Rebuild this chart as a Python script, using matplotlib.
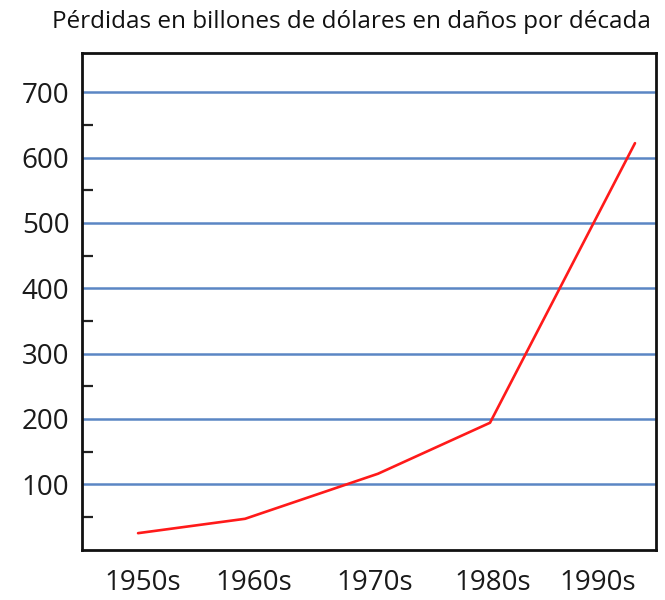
import matplotlib
matplotlib.use("Agg")
import matplotlib.pyplot as plt
from matplotlib.ticker import FixedLocator

# Data
decades = ["1950s", "1960s", "1970s", "1980s", "1990s"]
losses = [25, 47, 116, 194, 622]
y_major = [100, 200, 300, 400, 500, 600, 700]
y_minor = [50, 150, 250, 350, 450, 550, 650]
title = "Pérdidas en billones de dólares en daños por década"

# Layout (horizontal placement of points and labels, as in the original drawing)
point_x = [0, 0.947, 2.124, 3.115, 4.398]
label_x = [0.044, 1.027, 2.097, 3.142, 4.071]

fig = plt.figure(figsize=(6.65, 6.0), dpi=100)
ax = fig.add_axes([82 / 665, 1 - 549.5 / 600, (656 - 82) / 665, (549.5 - 53) / 600])

for v in y_major:
    ax.axhline(v, color="#5b86c4", lw=1.8, zorder=1)

ax.plot(point_x, losses, color="#ff1a1a", lw=1.9, zorder=3, solid_capstyle="round")

ax.set_xlim(-0.496, 4.584)
ax.set_ylim(0, 760)

ax.yaxis.set_major_locator(FixedLocator(y_major))
ax.yaxis.set_minor_locator(FixedLocator(y_minor))
ax.tick_params(axis="y", which="major", length=0, pad=9, labelsize=20,
               labelcolor="#1a1a1a")
ax.tick_params(axis="y", which="minor", direction="in", length=8, width=1.6,
               color="#222222")
ax.set_xticks(label_x)
ax.set_xticklabels(decades)
ax.tick_params(axis="x", length=0, pad=14, labelsize=20, labelcolor="#1a1a1a")

for s in ax.spines.values():
    s.set_linewidth(2)
    s.set_color("#111111")

for lab in ax.get_yticklabels() + ax.get_xticklabels():
    lab.set_family(["Open Sans", "DejaVu Sans"])

fig.text(351 / 665, 1 - 22 / 600, title, ha="center", va="center",
         fontsize=17.5, family=["Open Sans", "DejaVu Sans"], color="#111111")

fig.savefig("out.png", dpi=100)
